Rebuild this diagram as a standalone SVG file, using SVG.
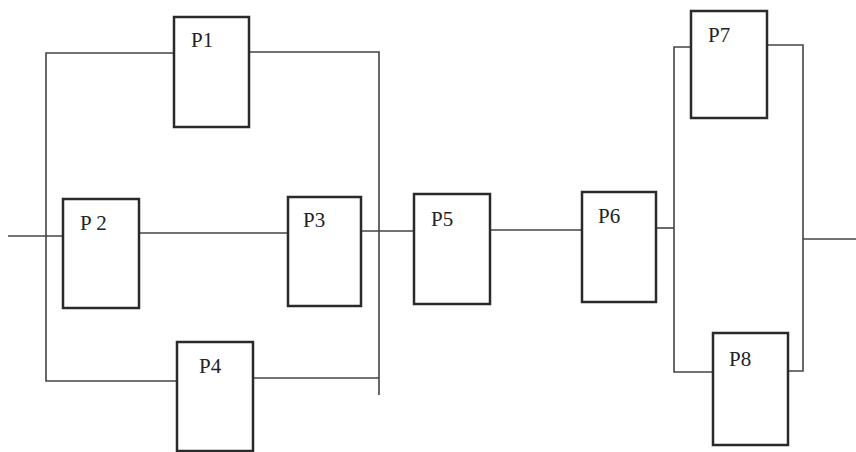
<svg xmlns="http://www.w3.org/2000/svg" width="856" height="452" viewBox="0 0 856 452">
<style>
.box{fill:#fff;stroke:#2a2a2a;stroke-width:2.5}
.ln{fill:none;stroke:#444;stroke-width:1.6}
.lb{font-family:"Liberation Serif","DejaVu Serif",serif;font-size:21px;fill:#222}
</style>
<rect width="856" height="452" fill="#fff"/>
<g id="connectors">
<polyline class="ln" points="175,53 46,53 46,381 178,381"/>
<polyline class="ln" points="248,52 379,52 379,395"/>
<line class="ln" x1="253" y1="378" x2="379" y2="378"/>
<line class="ln" x1="8" y1="236" x2="63" y2="236"/>
<line class="ln" x1="139" y1="233" x2="288" y2="233"/>
<line class="ln" x1="361" y1="231" x2="414" y2="231"/>
<line class="ln" x1="490" y1="230" x2="582" y2="230"/>
<line class="ln" x1="656" y1="228" x2="674" y2="228"/>
<polyline class="ln" points="691,47 674,47 674,372 713,372"/>
<polyline class="ln" points="767,45 803,45 803,371 788,371"/>
<line class="ln" x1="803" y1="239" x2="856" y2="239"/>
</g>
<g id="P1"><rect class="box" x="174" y="17" width="75" height="110"/><text class="lb" x="191" y="47">P1</text></g>
<g id="P2"><rect class="box" x="63" y="199" width="76" height="109"/><text class="lb" x="80" y="230">P 2</text></g>
<g id="P3"><rect class="box" x="288" y="197" width="73" height="109"/><text class="lb" x="303" y="227">P3</text></g>
<g id="P4"><rect class="box" x="177" y="342" width="76" height="109"/><text class="lb" x="199" y="373">P4</text></g>
<g id="P5"><rect class="box" x="414" y="194" width="76" height="110"/><text class="lb" x="431" y="226">P5</text></g>
<g id="P6"><rect class="box" x="582" y="192" width="74" height="110"/><text class="lb" x="598" y="223">P6</text></g>
<g id="P7"><rect class="box" x="691" y="11" width="76" height="107"/><text class="lb" x="708" y="42">P7</text></g>
<g id="P8"><rect class="box" x="713" y="333" width="75" height="112"/><text class="lb" x="729" y="366">P8</text></g>
</svg>
